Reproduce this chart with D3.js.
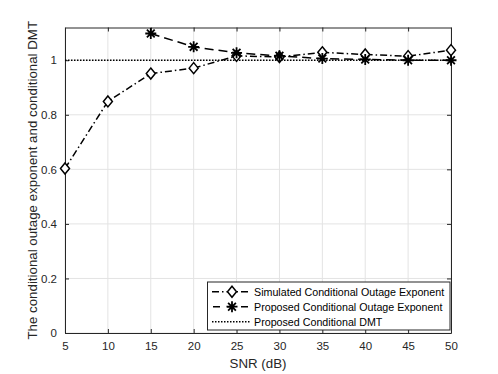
<!DOCTYPE html>
<html><head><meta charset="utf-8">
<script src="https://cdn.jsdelivr.net/npm/d3@7"></script>
<style>body{margin:0;background:#fff}text{font-family:"Liberation Sans",Arial,sans-serif}</style>
</head><body><svg id="c" width="498" height="374"></svg>
<script>
const snr = [5,10,15,20,25,30,35,40,45,50];
const simulated = [0.603,0.849,0.951,0.971,1.016,1.012,1.029,1.021,1.015,1.037];
const proposedSNR = [15,20,25,30,35,40,45,50];
const proposed = [1.098,1.049,1.027,1.016,1.006,1.003,1.0,1.0];
const dmtValue = 1;
const xTicks = [5,10,15,20,25,30,35,40,45,50];
const yTicks = [0,0.2,0.4,0.6,0.8,1];
const labels = ["Simulated Conditional Outage Exponent","Proposed Conditional Outage Exponent","Proposed Conditional DMT"];

const svg = d3.select("#c");
const L=65,R=451,T=27.5,B=333;
const x = d3.scaleLinear().domain([5,50]).range([L,R]);
const y = d3.scaleLinear().domain([0,1.12]).range([B,T]);

// grid
const g = svg.append("g");
xTicks.forEach(t=>g.append("line").attr("x1",x(t)).attr("x2",x(t)).attr("y1",T).attr("y2",B).attr("stroke","#e3e3e3").attr("stroke-width",1));
yTicks.forEach(t=>g.append("line").attr("x1",L).attr("x2",R).attr("y1",y(t)).attr("y2",y(t)).attr("stroke","#e3e3e3").attr("stroke-width",1));

// axes
const xa = svg.append("g").attr("transform",`translate(0,${B})`).call(d3.axisBottom(x).tickValues(xTicks).tickSizeInner(-4).tickSizeOuter(0).tickPadding(9).tickFormat(d3.format("d")));
const xt = svg.append("g").attr("transform",`translate(0,${T})`).call(d3.axisTop(x).tickValues(xTicks).tickSizeInner(-4).tickSizeOuter(0).tickFormat(""));
const ya = svg.append("g").attr("transform",`translate(${L},0)`).call(d3.axisLeft(y).tickValues(yTicks).tickSizeInner(-4).tickSizeOuter(0).tickPadding(8).tickFormat(d=>d===0||d===1?d3.format("d")(d):d3.format(".1f")(d)));
const yr = svg.append("g").attr("transform",`translate(${R},0)`).call(d3.axisRight(y).tickValues(yTicks).tickSizeInner(-4).tickSizeOuter(0).tickFormat(""));
[xa,xt,ya,yr].forEach(a=>{a.selectAll("path").attr("stroke","#262626");a.selectAll("line").attr("stroke","#262626");a.selectAll("text").attr("fill","#262626").style("font-size","11.5px").style("font-family","Liberation Sans, Arial, sans-serif");});

// lines
const line = d3.line().x(d=>x(d[0])).y(d=>y(d[1]));
svg.append("path").datum(x.domain().map(v=>[v,dmtValue])).attr("d",line).attr("fill","none").attr("stroke","#000").attr("stroke-width",1.5).attr("stroke-dasharray","1.5,1.5");
svg.append("path").datum(proposedSNR.map((s,i)=>[s,proposed[i]])).attr("d",line).attr("fill","none").attr("stroke","#000").attr("stroke-width",1.5).attr("stroke-dasharray","9,5");
svg.append("path").datum(snr.map((s,i)=>[s,simulated[i]])).attr("d",line).attr("fill","none").attr("stroke","#000").attr("stroke-width",1.5).attr("stroke-dasharray","7,3,1.5,3");

function diamond(sel,cx,cy){
  sel.append("path").attr("d",`M${cx},${cy-5.5}L${cx+4.5},${cy}L${cx},${cy+5.5}L${cx-4.5},${cy}Z`).attr("fill","#fff").attr("stroke","#000").attr("stroke-width",1.5);
}
function star(sel,cx,cy){
  const r=5.5, d=r*0.7071;
  sel.append("path").attr("d",`M${cx-r},${cy}L${cx+r},${cy}M${cx},${cy-r}L${cx},${cy+r}M${cx-d},${cy-d}L${cx+d},${cy+d}M${cx-d},${cy+d}L${cx+d},${cy-d}`).attr("stroke","#000").attr("stroke-width",1.8).attr("fill","none");
}
snr.forEach((s,i)=>diamond(svg,x(s),y(simulated[i])));
proposedSNR.forEach((s,i)=>star(svg,x(s),y(proposed[i])));

// legend
const lg = svg.append("g");
lg.append("rect").attr("x",207.5).attr("y",282).attr("width",242.5).attr("height",48).attr("fill","#fff").attr("stroke","#262626").attr("stroke-width",1);
const rows=[291.7,306.7,321.7];
const dashes=["7,3,1.5,3","9,5","1.5,1.5"];
rows.forEach((ry,i)=>{
  lg.append("line").attr("x1",212).attr("x2",250).attr("y1",ry).attr("y2",ry).attr("stroke","#000").attr("stroke-width",1.5).attr("stroke-dasharray",i===1?"7,7":dashes[i]).attr("stroke-dashoffset",i===1?-1:0);
  if(i===0) diamond(lg,232,ry);
  if(i===1) star(lg,232,ry);
  lg.append("text").attr("x",254).attr("y",ry+4).text(labels[i]).style("font-size","10.7px").attr("fill","#000");
});

// axis labels
svg.append("text").attr("x",258).attr("y",368).attr("text-anchor","middle").style("font-size","13.3px").attr("fill","#262626").text("SNR (dB)");
svg.append("text").attr("transform",`translate(37,${(T+B)/2}) rotate(-90)`).attr("text-anchor","middle").style("font-size","13.3px").attr("fill","#262626").text("The conditional outage exponent and conditional DMT");
</script></body></html>
